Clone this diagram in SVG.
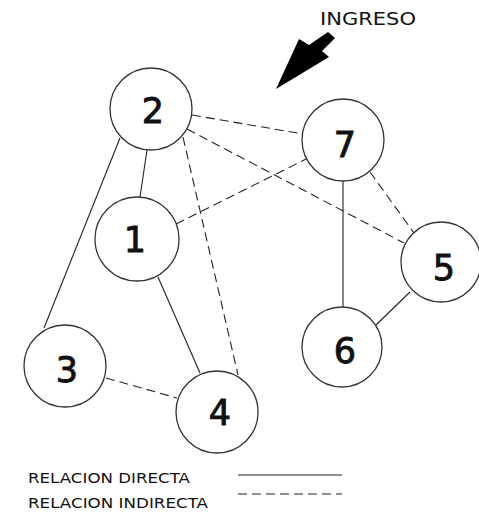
<svg xmlns="http://www.w3.org/2000/svg" width="479" height="512" viewBox="0 0 479 512">
<style>
.node circle{fill:#fff;stroke:#333;stroke-width:1.3}
.node text{font-family:"DejaVu Sans",sans-serif;font-size:35px;fill:#111;stroke:#111;stroke-width:0.9;text-anchor:middle}
.solid{stroke:#222;stroke-width:1.1;fill:none}
.dash{stroke:#222;stroke-width:1.1;fill:none;stroke-dasharray:9 5}
.lbl{font-family:"DejaVu Sans",sans-serif;font-size:14px;fill:#111}
</style>
<rect width="479" height="512" fill="#fff"/>
<g id="connectors">
<line class="solid" x1="147" y1="150" x2="140" y2="197"/>
<line class="solid" x1="120" y1="138" x2="44" y2="328"/>
<line class="dash" x1="183" y1="137" x2="238" y2="375"/>
<line class="dash" x1="192" y1="115" x2="303" y2="134"/>
<line class="dash" x1="187" y1="129" x2="404" y2="243"/>
<line class="dash" x1="176" y1="224" x2="306" y2="159"/>
<line class="solid" x1="158" y1="277" x2="200" y2="373"/>
<line class="dash" x1="106" y1="378" x2="177" y2="398"/>
<line class="solid" x1="343" y1="181" x2="343" y2="307"/>
<line class="dash" x1="370" y1="172" x2="414" y2="233"/>
<line class="solid" x1="376" y1="325" x2="410" y2="292"/>
</g>
<g id="node2" class="node"><circle cx="151" cy="109" r="41"/><text x="153" y="123">2</text></g>
<g id="node7" class="node"><circle cx="343" cy="140" r="41"/><text x="345" y="157">7</text></g>
<g id="node1" class="node"><circle cx="137" cy="239" r="42"/><text x="135" y="252">1</text></g>
<g id="node5" class="node"><circle cx="441" cy="262" r="40"/><text x="444" y="280">5</text></g>
<g id="node6" class="node"><circle cx="342" cy="347" r="40"/><text x="345" y="363">6</text></g>
<g id="node3" class="node"><circle cx="65" cy="366" r="41"/><text x="67" y="382">3</text></g>
<g id="node4" class="node"><circle cx="217" cy="412" r="41"/><text x="220" y="425">4</text></g>
<g id="ingreso">
<text x="320" y="25" font-family="DejaVu Sans, sans-serif" font-size="18" fill="#111" textLength="96" lengthAdjust="spacingAndGlyphs">INGRESO</text>
<polygon points="328,32 335,38 322,51 329,57 276,89 299,39 309,45" fill="#000"/>
</g>
<g id="legend">
<text class="lbl" x="28" y="483" textLength="162" lengthAdjust="spacingAndGlyphs">RELACION DIRECTA</text>
<text class="lbl" x="28" y="508" textLength="180" lengthAdjust="spacingAndGlyphs">RELACION INDIRECTA</text>
<line class="solid" x1="238" y1="475" x2="342" y2="475"/>
<line class="dash" x1="238" y1="494" x2="342" y2="494"/>
</g>
</svg>
